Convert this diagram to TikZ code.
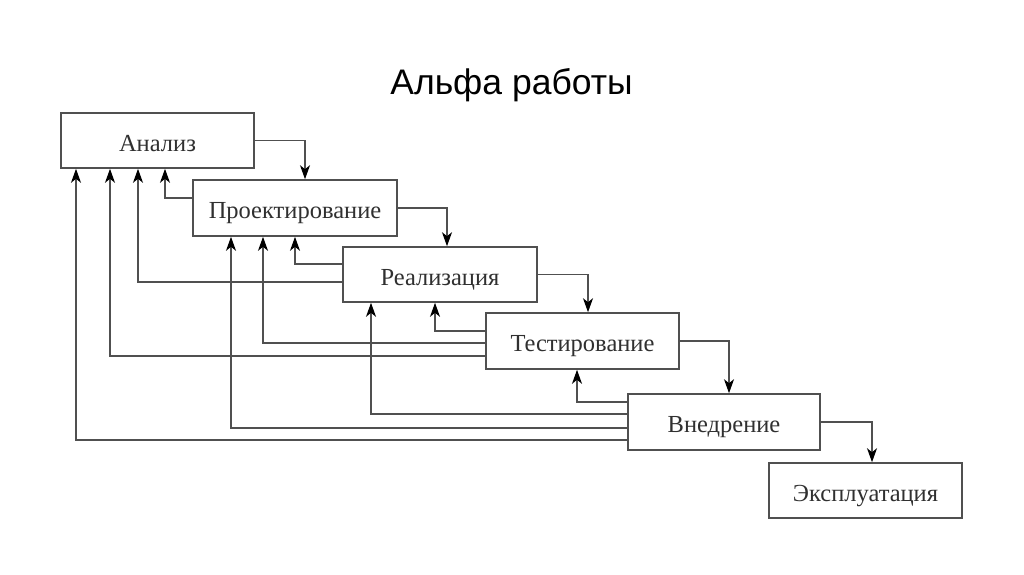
\documentclass[tikz,border=0pt]{standalone}
\usepackage{fontspec}
\setmainfont{Liberation Serif}
\newfontfamily\titlefont{Liberation Sans}
\usetikzlibrary{arrows.meta}
\definecolor{linegray}{HTML}{505050}
\definecolor{textgray}{HTML}{303030}
\tikzset{
  stage/.style={draw=linegray, line width=1.6pt, fill=white, text=textgray,
    inner sep=0pt, text height=21pt, text depth=0pt,
    font=\fontsize{24.5}{26}\selectfont},
  fwd/.style={draw=linegray, line width=1.5pt, -{Stealth[length=14pt,width=10pt,inset=4pt,black]}},
  back/.style={fwd}
}
\begin{document}
\begin{tikzpicture}[x=1pt,y=-1pt]
      \useasboundingbox (0,0) rectangle (1024,574);
      \node[anchor=base, font=\titlefont\fontsize{35.5}{38}\selectfont] (title) at (511.5,94) {Альфа работы};
      \node[stage, minimum width=193pt, minimum height=55pt] (A) at (157.5,140.5) {Анализ};
      \node[stage, minimum width=204pt, minimum height=56pt] (P) at (295,208) {Проектирование};
      \node[stage, minimum width=194pt, minimum height=55pt] (R) at (440,274.5) {Реализация};
      \node[stage, minimum width=193pt, minimum height=56pt] (T) at (582.5,341) {Тестирование};
      \node[stage, minimum width=192pt, minimum height=56pt] (V) at (724,422) {Внедрение};
      \node[stage, minimum width=193pt, minimum height=55pt] (E) at (865.5,490.5) {Эксплуатация};
      % forward steps
      \foreach \src/\dst/\xx in {A/P/305, P/R/447, R/T/588, T/V/729, V/E/872}
        \draw[fwd] (\src.east) -| (\dst.north -| \xx,0);
      % feedback
      \foreach \src/\dst/\yy/\xx in {P/A/198/165, R/P/264/295, R/A/282/138,
          T/R/331/435, T/P/343/263, T/A/356/110,
          V/T/402/577, V/R/414/371, V/P/428/231, V/A/440/76}
        \draw[back] (\src.west |- 0,\yy) -| (\dst.south -| \xx,0);
    \end{tikzpicture}
\end{document}
